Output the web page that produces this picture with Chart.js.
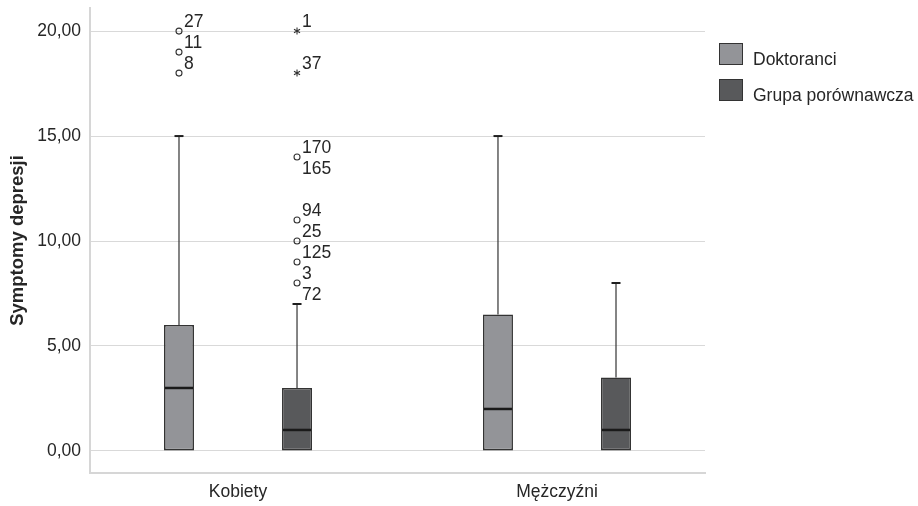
<!DOCTYPE html>
<html>
<head>
<meta charset="utf-8">
<script src="https://cdn.jsdelivr.net/npm/chart.js@4.4.1/dist/chart.umd.min.js"></script>
<style>
  html, body { margin: 0; padding: 0; background: #ffffff; }
  canvas { display: block; }
</style>
</head>
<body>
<canvas id="chart" width="918" height="506"></canvas>
<script>
// Groups on the horizontal axis and the two compared series
const categories = ['Kobiety', 'Mężczyźni'];
const seriesNames = ['Doktoranci', 'Grupa porównawcza'];
const yTickValues = [0, 5, 10, 15, 20];

// Doktoranci: five-number summary per group
const doktMin = [0, 0];
const doktQ1 = [0, 0];
const doktMedian = [3, 2];
const doktQ3 = [6, 6.5];
const doktMax = [15, 15];
// outliers (circles) and extreme values (asterisks) with case numbers
const doktOutliers = [[20, 19, 18], []];
const doktOutlierIds = [[['27'], ['11'], ['8']], []];
const doktExtremes = [[], []];
const doktExtremeIds = [[], []];

// Grupa porównawcza: five-number summary per group
const grupaMin = [0, 0];
const grupaQ1 = [0, 0];
const grupaMedian = [1, 1];
const grupaQ3 = [3, 3.5];
const grupaMax = [7, 8];
const grupaOutliers = [[14, 11, 10, 9, 8], []];
const grupaOutlierIds = [[['170', '165'], ['94'], ['25'], ['125'], ['3', '72']], []];
const grupaExtremes = [[20, 18], []];
const grupaExtremeIds = [[['1'], ['37']], []];

const FONT = '"Liberation Sans", Arial, sans-serif';
const TEXT = '#262626';
const fills = ['#939498', '#58595b'];

const stats = [
  { min: doktMin, q1: doktQ1, med: doktMedian, q3: doktQ3, max: doktMax,
    out: doktOutliers, outIds: doktOutlierIds, ext: doktExtremes, extIds: doktExtremeIds },
  { min: grupaMin, q1: grupaQ1, med: grupaMedian, q3: grupaQ3, max: grupaMax,
    out: grupaOutliers, outIds: grupaOutlierIds, ext: grupaExtremes, extIds: grupaExtremeIds }
];

// Whiskers, medians, outliers and their case labels on top of the box bars
const boxDecorations = {
  id: 'boxDecorations',
  afterDatasetsDraw(chart) {
    const ctx = chart.ctx;
    const yS = chart.scales.y;
    stats.forEach((s, d) => {
      const meta = chart.getDatasetMeta(d);
      meta.data.forEach((bar, i) => {
        const x = bar.x;
        const half = bar.width / 2;
        const py = v => yS.getPixelForValue(v);
        ctx.save();
        // upper whisker
        if (s.max[i] > s.q3[i]) {
          ctx.strokeStyle = '#333333';
          ctx.lineWidth = 1.2;
          ctx.beginPath();
          ctx.moveTo(x, py(s.q3[i]));
          ctx.lineTo(x, py(s.max[i]));
          ctx.stroke();
          ctx.strokeStyle = '#1e1e1e';
          ctx.lineWidth = 2;
          ctx.beginPath();
          ctx.moveTo(x - 4.5, py(s.max[i]));
          ctx.lineTo(x + 4.5, py(s.max[i]));
          ctx.stroke();
        }
        // lower whisker
        if (s.min[i] < s.q1[i]) {
          ctx.strokeStyle = '#333333';
          ctx.lineWidth = 1.2;
          ctx.beginPath();
          ctx.moveTo(x, py(s.q1[i]));
          ctx.lineTo(x, py(s.min[i]));
          ctx.stroke();
          ctx.strokeStyle = '#1e1e1e';
          ctx.lineWidth = 2;
          ctx.beginPath();
          ctx.moveTo(x - 4.5, py(s.min[i]));
          ctx.lineTo(x + 4.5, py(s.min[i]));
          ctx.stroke();
        }
        // median
        ctx.strokeStyle = '#1a1a1a';
        ctx.lineWidth = 2.5;
        ctx.beginPath();
        ctx.moveTo(x - half + 1, py(s.med[i]));
        ctx.lineTo(x + half - 1, py(s.med[i]));
        ctx.stroke();

        ctx.font = '17.5px ' + FONT;
        ctx.fillStyle = TEXT;
        ctx.textAlign = 'left';
        ctx.textBaseline = 'alphabetic';
        const labelCases = (ids, y) => {
          ids.forEach((t, k) => ctx.fillText(t, x + 5, y - 4 + k * 21));
        };
        // outliers as open circles
        s.out[i].forEach((v, k) => {
          const y = py(v);
          ctx.strokeStyle = '#333333';
          ctx.lineWidth = 1.1;
          ctx.beginPath();
          ctx.arc(x, y, 3, 0, Math.PI * 2);
          ctx.stroke();
          labelCases(s.outIds[i][k], y);
        });
        // extreme values as asterisks
        s.ext[i].forEach((v, k) => {
          const y = py(v);
          ctx.strokeStyle = '#333333';
          ctx.lineWidth = 1.1;
          ctx.beginPath();
          for (let a = 0; a < 3; a++) {
            const ang = Math.PI / 2 + a * Math.PI / 3;
            ctx.moveTo(x + 3.5 * Math.cos(ang), y + 3.5 * Math.sin(ang));
            ctx.lineTo(x - 3.5 * Math.cos(ang), y - 3.5 * Math.sin(ang));
          }
          ctx.stroke();
          labelCases(s.extIds[i][k], y);
        });
        ctx.restore();
      });
    });
  }
};

// Legend with square swatches to the right of the plot
const sideLegend = {
  id: 'sideLegend',
  afterDraw(chart) {
    const ctx = chart.ctx;
    const left = chart.chartArea.right + 14;
    ctx.save();
    chart.data.datasets.forEach((ds, i) => {
      const top = 43 + i * 36;
      ctx.fillStyle = ds.backgroundColor;
      ctx.fillRect(left, top, 24, 22);
      ctx.strokeStyle = '#333333';
      ctx.lineWidth = 1;
      ctx.strokeRect(left + 0.5, top + 0.5, 23, 21);
      ctx.fillStyle = TEXT;
      ctx.font = '17.5px ' + FONT;
      ctx.textAlign = 'left';
      ctx.textBaseline = 'alphabetic';
      ctx.fillText(ds.label, left + 34, top + 22);
    });
    ctx.restore();
  }
};

const datasets = stats.map((s, d) => ({
  label: seriesNames[d],
  data: categories.map((c, i) => ({ x: i + 1, y: [s.q1[i], s.q3[i]] })),
  backgroundColor: fills[d],
  borderColor: '#333333',
  borderWidth: 1.6,
  borderSkipped: false,
  categoryPercentage: 0.74,
  barPercentage: 0.254
}));

new Chart(document.getElementById('chart'), {
  type: 'bar',
  data: { datasets },
  plugins: [boxDecorations, sideLegend],
  options: {
    responsive: false,
    animation: false,
    devicePixelRatio: 1,
    layout: { padding: { top: 8, right: 213, left: 0, bottom: 0 } },
    plugins: { legend: { display: false }, tooltip: { enabled: false } },
    scales: {
      x: {
        type: 'linear',
        offset: false,
        min: 0.536,
        max: 2.464,
        afterBuildTicks: scale => { scale.ticks = categories.map((c, i) => ({ value: i + 1 })); },
        afterFit: scale => { scale.height = 33; scale.paddingLeft = 0; scale.paddingRight = 0; },
        grid: { display: false, drawTicks: false },
        border: { display: true, color: '#d6d6d6', width: 2 },
        ticks: {
          padding: 9,
          color: TEXT,
          font: { family: FONT, size: 17.5 },
          callback: v => categories[v - 1]
        }
      },
      y: {
        type: 'linear',
        min: -1.05,
        max: 21.1,
        afterBuildTicks: scale => { scale.ticks = yTickValues.map(v => ({ value: v })); },
        afterFit: scale => { scale.width = 90; scale.paddingTop = 0; scale.paddingBottom = 0; },
        grid: { color: '#d9d9d9', lineWidth: 1, drawTicks: false },
        border: { display: true, color: '#d6d6d6', width: 2 },
        ticks: {
          padding: 9,
          color: TEXT,
          font: { family: FONT, size: 17.5 },
          callback: v => v.toFixed(2).replace('.', ',')
        },
        title: {
          display: true,
          text: 'Symptomy depresji',
          color: TEXT,
          font: { family: FONT, size: 18.5, weight: 'bold' },
          padding: { top: 7, bottom: 0 }
        }
      }
    }
  }
});
</script>
</body>
</html>
